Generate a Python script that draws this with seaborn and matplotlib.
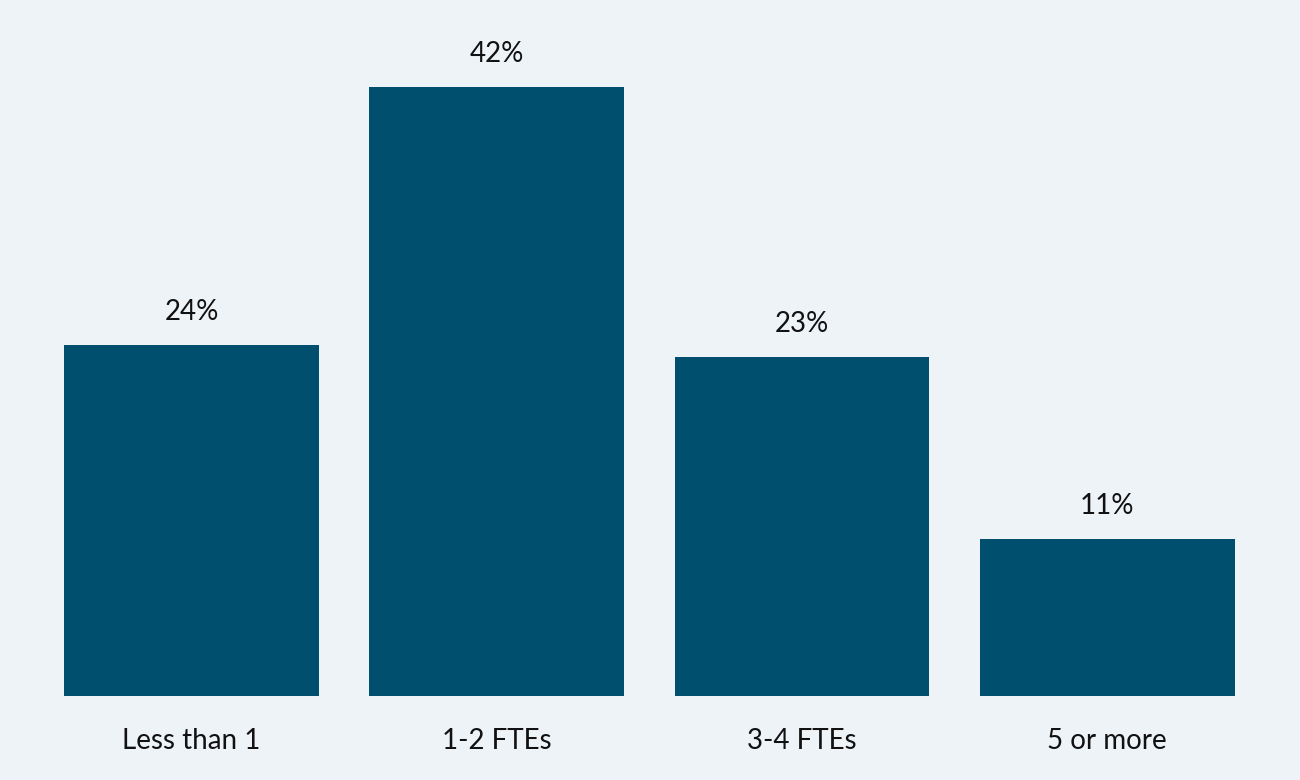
import matplotlib
matplotlib.use("Agg")
import matplotlib.pyplot as plt
import seaborn as sns
import pandas as pd

# values (% of respondents)
categories = ["Less than 1", "1-2 FTEs", "3-4 FTEs", "5 or more"]
shares = [24.2, 42.0, 23.4, 10.8]

bg = "#EEF3F8"
bar_color = "#004F6E"

sns.set_theme(style="white")
plt.rcParams["font.family"] = ["Lato", "DejaVu Sans"]

df = pd.DataFrame({"group": categories, "share": shares})

fig = plt.figure(figsize=(13, 7.8), dpi=100, facecolor=bg)
ax = fig.add_axes([0.03, 0.1077, 0.939, 0.855])
ax.set_facecolor(bg)

sns.barplot(data=df, x="group", y="share", color=bar_color, width=0.835,
            saturation=1, linewidth=0, ax=ax)

for i, v in enumerate(shares):
    ax.annotate(f"{v:.0f}%", (i, v), xytext=(0, 18), textcoords="offset points",
                ha="center", va="baseline", fontsize=20, color="#111111")

ax.set_ylim(0, 46)
ax.set_xlim(-0.5, 3.5)
ax.set_xlabel("")
ax.set_ylabel("")
ax.set_yticks([])
ax.tick_params(axis="x", length=0, pad=23, labelsize=20, labelcolor="#111111")
for s in ax.spines.values():
    s.set_visible(False)

fig.savefig("out.png", dpi=100, facecolor=bg)
